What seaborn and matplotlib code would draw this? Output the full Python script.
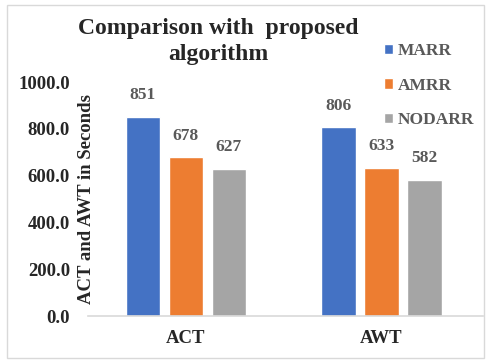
import pandas as pd
import matplotlib.pyplot as plt
import seaborn as sns
from matplotlib.patches import Rectangle

# data
metrics = ["ACT", "AWT"]
algorithms = ["MARR", "AMRR", "NODARR"]
marr = [851, 806]
amrr = [678, 633]
nodarr = [627, 582]
colors = ["#4472C4", "#ED7D31", "#A5A5A5"]

df = pd.DataFrame({
    "metric": metrics * 3,
    "algorithm": [a for a in algorithms for _ in metrics],
    "value": marr + amrr + nodarr,
})

sns.set_style("white")
plt.rcParams["font.family"] = ["Liberation Serif", "DejaVu Serif"]
plt.rcParams["font.weight"] = "bold"

fig = plt.figure(figsize=(4.86, 3.63), dpi=100)
ax = fig.add_axes([0.181, 0.129, 0.813, 0.645])

sns.barplot(data=df, x="metric", y="value", hue="algorithm", palette=colors,
            width=0.66, gap=0.2, ax=ax, saturation=1)

for cont in ax.containers:
    ax.bar_label(cont, fmt="%d", padding=10, fontsize=12.5, fontweight="bold", color="#595959")

ax.set_xlim(-0.5, 1.52)
ax.set_ylim(0, 1000)
ax.set_yticks([0, 200, 400, 600, 800, 1000])
ax.set_yticklabels([f"{v:.1f}" for v in [0, 200, 400, 600, 800, 1000]],
                   fontsize=13.5, fontweight="bold")
ax.tick_params(axis="y", length=0, pad=13)
ax.tick_params(axis="x", length=0, pad=10, labelsize=13.5)
for lab in ax.get_xticklabels():
    lab.set_fontweight("bold")
ax.set_xlabel("")
ax.set_ylabel("ACT and AWT in Seconds", fontsize=13.5, fontweight="bold")
ax.yaxis.set_label_coords(0.018, 0.5)

for s in ["top", "right", "left"]:
    ax.spines[s].set_visible(False)
ax.spines["bottom"].set_color("#D9D9D9")
ax.spines["bottom"].set_linewidth(1.2)

fig.text(0.45, 0.885, "Comparison with  proposed\nalgorithm", ha="center", va="center",
         fontsize=17, fontweight="bold", linespacing=1.3)

leg = ax.legend(loc="upper left", bbox_to_anchor=(0.772, 0.905), bbox_transform=fig.transFigure,
                frameon=False, borderpad=0, fontsize=12.5, handlelength=0.55, handleheight=0.55,
                handletextpad=0.25, labelspacing=1.07)
for t in leg.get_texts():
    t.set_color("#595959")
    t.set_fontweight("bold")

fig.patches.append(Rectangle((0.014, 0.014), 0.982, 0.972, transform=fig.transFigure,
                             fill=False, edgecolor="#D9D9D9", linewidth=1))

fig.savefig("out.png", dpi=100)
